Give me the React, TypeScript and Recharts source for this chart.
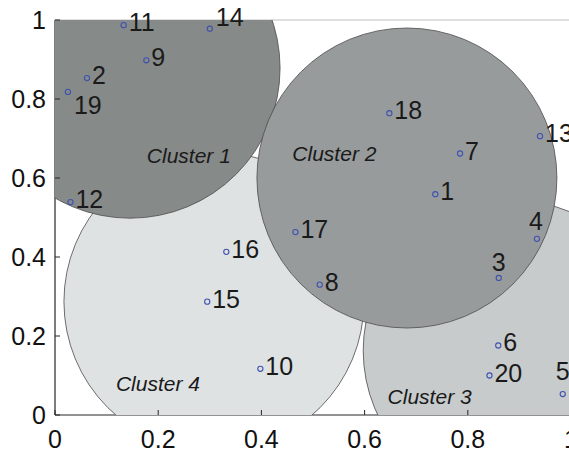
import { ScatterChart, Scatter, XAxis, YAxis, ReferenceLine } from "recharts";

// point data (numbered observations)
const pointIds = ["1", "2", "3", "4", "5", "6", "7", "8", "9", "10", "11", "12", "13", "14", "15", "16", "17", "18", "19", "20"];
const pointX = [0.737, 0.062, 0.86, 0.934, 0.984, 0.859, 0.785, 0.513, 0.177, 0.398, 0.133, 0.03, 0.94, 0.3, 0.295, 0.332, 0.466, 0.648, 0.025, 0.842];
const pointY = [0.559, 0.853, 0.347, 0.446, 0.053, 0.176, 0.662, 0.33, 0.898, 0.117, 0.987, 0.539, 0.706, 0.978, 0.287, 0.413, 0.463, 0.764, 0.818, 0.1];

// cluster centres
const clusterNames = ["Cluster 1", "Cluster 2", "Cluster 3", "Cluster 4"];
const clusterX = [0.1455, 0.682, 0.888, 0.308];
const clusterY = [0.878, 0.6, 0.163, 0.287];
// where each cluster's caption sits (data units)
const clusterLabelX = [0.178, 0.46, 0.6446, 0.118];
const clusterLabelY = [0.658, 0.6625, 0.046, 0.08];

const ticks = [0, 0.2, 0.4, 0.6, 0.8, 1];

// styles
const FONT = '"Liberation Sans", Arial, Helvetica, sans-serif';
const CLUSTER_R = 150;
const CLUSTER_FILL: Record<string, string> = {
  "Cluster 1": "#868a89",
  "Cluster 2": "#989b9c",
  "Cluster 3": "#c7cbcc",
  "Cluster 4": "#dfe2e3",
};
const DRAW_ORDER = ["Cluster 4", "Cluster 3", "Cluster 1", "Cluster 2"];
const LABEL_OFFSET: Record<string, { dx: number; dy: number; anchor: string }> = {
  "3": { dx: 0, dy: -16, anchor: "middle" },
  "4": { dx: -1, dy: -18, anchor: "middle" },
  "5": { dx: 0, dy: -23, anchor: "middle" },
  "14": { dx: 6, dy: -12, anchor: "start" },
  "19": { dx: 6, dy: 13, anchor: "start" },
};
const DEFAULT_OFFSET = { dx: 5, dy: -3, anchor: "start" };

const points = pointIds.map((id, i) => ({ id, x: pointX[i], y: pointY[i] }));
const clusters = DRAW_ORDER.map((name) => {
  const i = clusterNames.indexOf(name);
  return { name, x: clusterX[i], y: clusterY[i] };
});
const clusterLabels = clusterNames.map((name, i) => ({
  name,
  x: clusterLabelX[i],
  y: clusterLabelY[i],
}));

const ClusterShape = (props: any) => (
  <circle
    cx={props.cx}
    cy={props.cy}
    r={CLUSTER_R}
    fill={CLUSTER_FILL[props.payload.name]}
    stroke="#4a4a4a"
    strokeWidth={0.8}
  />
);

const PointShape = (props: any) => {
  const id = props.payload.id;
  const o = LABEL_OFFSET[id] || DEFAULT_OFFSET;
  return (
    <g>
      <circle cx={props.cx} cy={props.cy} r={2.6} fill="none" stroke="#3f52b0" strokeWidth={1.1} />
      <text
        x={props.cx + o.dx}
        y={props.cy + o.dy}
        dy="0.36em"
        textAnchor={o.anchor as any}
        fontFamily={FONT}
        fontSize={25}
        fill="#1a1a1a"
      >
        {id}
      </text>
    </g>
  );
};

const ClusterLabelShape = (props: any) => (
  <text
    x={props.cx}
    y={props.cy}
    dy="0.36em"
    fontFamily={FONT}
    fontSize={21}
    fontStyle="italic"
    fill="#1a1a1a"
  >
    {props.payload.name}
  </text>
);

const XTick = ({ x, y, payload }: any) => (
  <g>
    <line x1={x} y1={y} x2={x} y2={y - 5} stroke="#262626" strokeWidth={1} />
    <text x={x} y={y + 33} textAnchor="middle" fontFamily={FONT} fontSize={25} fill="#111">
      {String(payload.value)}
    </text>
  </g>
);

const YTick = ({ x, y, payload }: any) => (
  <g>
    <line x1={x} y1={y} x2={x + 5} y2={y} stroke="#262626" strokeWidth={1} />
    <text x={x - 9} y={y} dy="0.36em" textAnchor="end" fontFamily={FONT} fontSize={25} fill="#111">
      {String(payload.value)}
    </text>
  </g>
);

export default function App() {
  return (
    <div
      style={{
        position: "absolute",
        left: 0,
        top: 0,
        width: 569,
        height: 453,
        overflow: "hidden",
        background: "#fff",
      }}
    >
      <ScatterChart width={601} height={453} margin={{ top: 20, right: 30, bottom: 0, left: 0 }}>
        {/* hidden twin axes with clipping, used only by the cluster discs */}
        <XAxis xAxisId="clip" dataKey="x" type="number" domain={[0, 1]} allowDataOverflow hide />
        <YAxis yAxisId="clip" dataKey="y" type="number" domain={[0, 1]} allowDataOverflow hide />
        <XAxis
          dataKey="x"
          type="number"
          domain={[0, 1]}
          ticks={ticks}
          height={38}
          tickSize={0}
          tickMargin={0}
          tickLine={false}
          axisLine={{ stroke: "#262626", strokeWidth: 1.2 }}
          tick={<XTick />}
          interval={0}
        />
        <YAxis
          dataKey="y"
          type="number"
          domain={[0, 1]}
          ticks={ticks}
          width={55}
          tickSize={0}
          tickMargin={0}
          tickLine={false}
          axisLine={{ stroke: "#262626", strokeWidth: 1.2 }}
          tick={<YTick />}
          interval={0}
        />
        <ReferenceLine y={1} stroke="#d4d4d4" strokeWidth={1.5} />
        <Scatter
          data={clusters}
          xAxisId="clip"
          yAxisId="clip"
          shape={ClusterShape}
          isAnimationActive={false}
        />
        <Scatter data={clusterLabels} shape={ClusterLabelShape} isAnimationActive={false} />
        <Scatter data={points} shape={PointShape} isAnimationActive={false} />
      </ScatterChart>
    </div>
  );
}
